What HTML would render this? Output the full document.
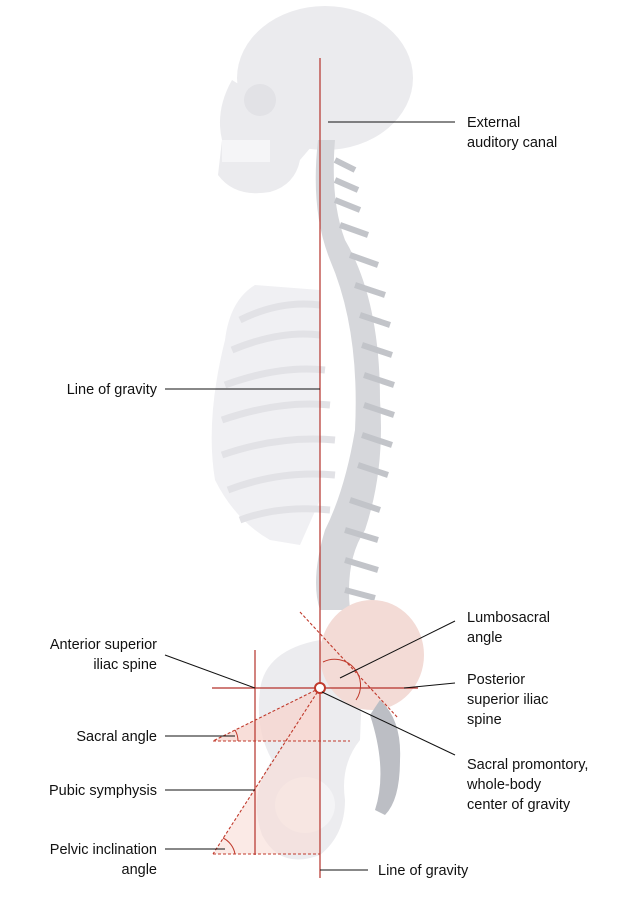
<!DOCTYPE html>
<html><head><style>
html,body{margin:0;padding:0;background:#fff;}
svg text{font-family:"Liberation Sans",sans-serif;font-size:14.5px;fill:#111;}
</style></head><body>
<svg width="629" height="912" viewBox="0 0 629 912" xmlns="http://www.w3.org/2000/svg">
<!-- skull -->
<ellipse cx="325" cy="78" rx="88" ry="72" fill="#ebebee"/>
<path d="M232 80 Q215 110 222 140 L218 175 Q235 198 270 192 Q295 185 300 160 L330 125 L280 110 Z" fill="#ebebee"/>
<rect x="222" y="140" width="48" height="22" fill="#f5f5f7"/>
<circle cx="260" cy="100" r="16" fill="#e2e2e6"/>
<!-- ribcage -->
<path d="M255 285 Q230 300 225 340 Q205 420 215 480 Q235 520 270 540 L300 545 L320 500 L320 290 Z" fill="#f0f0f3"/>
<g stroke="#e2e2e6" stroke-width="7" fill="none">
<path d="M240 320 Q280 300 320 305"/><path d="M232 350 Q280 330 320 335"/>
<path d="M225 385 Q280 365 325 370"/><path d="M222 420 Q280 400 330 405"/>
<path d="M222 455 Q280 435 335 440"/><path d="M228 490 Q280 470 335 475"/>
<path d="M240 520 Q280 505 330 510"/>
</g>
<!-- spine -->
<path d="M318 140 Q310 210 330 260 Q360 330 355 430 Q345 490 325 530 Q310 580 320 610 L350 610 Q345 560 365 530 Q385 470 380 400 Q380 300 345 240 Q330 200 335 140Z" fill="#d6d7db"/>
<g stroke="#c2c4c9" stroke-width="6" fill="none">
<path d="M335 160 L355 170"/><path d="M335 180 L358 190"/><path d="M335 200 L360 210"/><path d="M340 225 L368 235"/>
<path d="M350 255 L378 265"/><path d="M355 285 L385 295"/><path d="M360 315 L390 325"/><path d="M362 345 L392 355"/>
<path d="M364 375 L394 385"/><path d="M364 405 L394 415"/><path d="M362 435 L392 445"/><path d="M358 465 L388 475"/>
<path d="M350 500 L380 510"/><path d="M345 530 L378 540"/><path d="M345 560 L378 570"/><path d="M345 590 L375 598"/>
</g>
<!-- pelvis -->
<path d="M260 690 Q265 650 320 640 L362 690 L360 740 Q340 765 345 800 Q345 835 320 855 Q280 870 262 835 Q248 795 272 760 Q255 730 260 690Z" fill="#ececef"/>
<ellipse cx="305" cy="805" rx="30" ry="28" fill="#f4f4f6"/>
<ellipse cx="372" cy="655" rx="52" ry="55" fill="#f3dbd6"/>
<path d="M380 700 Q402 720 400 760 Q400 800 385 815 L375 810 Q388 770 370 715Z" fill="#bcbec4"/>
<!-- pink triangles -->
<polygon points="320,688 213,741 320,741" fill="#f6d6cf" opacity="0.8"/>
<polygon points="320,688 213,854 320,854" fill="#f8dcd5" opacity="0.6"/>
<!-- red lines -->
<g stroke="#b5312a" stroke-width="1.2" fill="none">
<line x1="320" y1="58" x2="320" y2="878"/>
<line x1="212" y1="688" x2="418" y2="688"/>
<line x1="255" y1="650" x2="255" y2="855"/>
</g>
<g stroke="#c0392b" stroke-width="1.1" fill="none" stroke-dasharray="3,2">
<line x1="213" y1="741" x2="350" y2="741"/>
<line x1="213" y1="854" x2="320" y2="854"/>
<line x1="320" y1="688" x2="213" y2="741"/>
<line x1="320" y1="688" x2="213" y2="854"/>
<line x1="300" y1="612" x2="398" y2="718"/>
</g>
<g stroke="#c0392b" stroke-width="1" fill="none">
<path d="M323 662 A 26 26 0 0 1 356 700"/>
<path d="M235 730 A 22 22 0 0 1 238 741"/>
<path d="M223 838 A 22 22 0 0 1 235 854"/>
</g>
<circle cx="320" cy="688" r="5" fill="#fff" stroke="#c0392b" stroke-width="2"/>
<!-- leaders -->
<g stroke="#111" stroke-width="1" fill="none">
<line x1="328" y1="122" x2="455" y2="122"/>
<line x1="165" y1="389" x2="320" y2="389"/>
<line x1="165" y1="655" x2="255" y2="688"/>
<line x1="165" y1="736" x2="235" y2="736"/>
<line x1="165" y1="790" x2="255" y2="790"/>
<line x1="165" y1="849" x2="225" y2="849"/>
<line x1="320" y1="870" x2="368" y2="870"/>
<line x1="340" y1="678" x2="455" y2="621"/>
<line x1="404" y1="688" x2="455" y2="683"/>
<line x1="322" y1="692" x2="455" y2="755"/>
</g>
<!-- labels -->
<text x="467" y="127">External</text>
<text x="467" y="147">auditory canal</text>
<text x="157" y="394" text-anchor="end">Line of gravity</text>
<text x="467" y="622">Lumbosacral</text>
<text x="467" y="642">angle</text>
<text x="157" y="649" text-anchor="end">Anterior superior</text>
<text x="157" y="669" text-anchor="end">iliac spine</text>
<text x="467" y="684">Posterior</text>
<text x="467" y="704">superior iliac</text>
<text x="467" y="724">spine</text>
<text x="157" y="741" text-anchor="end">Sacral angle</text>
<text x="467" y="769">Sacral promontory,</text>
<text x="467" y="789">whole-body</text>
<text x="467" y="809">center of gravity</text>
<text x="157" y="795" text-anchor="end">Pubic symphysis</text>
<text x="157" y="854" text-anchor="end">Pelvic inclination</text>
<text x="157" y="874" text-anchor="end">angle</text>
<text x="378" y="875">Line of gravity</text>
</svg>
</body></html>
